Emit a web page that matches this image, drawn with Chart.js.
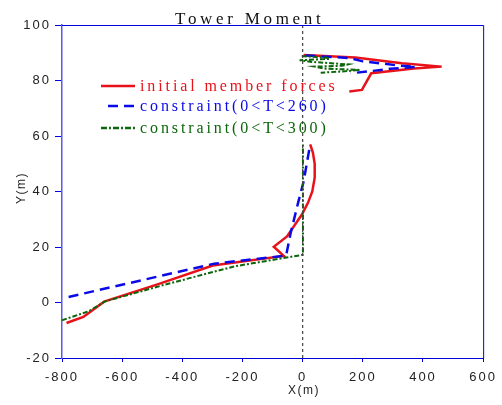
<!DOCTYPE html>
<html>
<head>
<meta charset="utf-8">
<script src="https://cdn.jsdelivr.net/npm/chart.js@4/dist/chart.umd.min.js"></script>
<style>
  body { margin: 0; background: #fff; }
  #wrap { width: 502px; height: 405px; }
</style>
</head>
<body>
<div id="wrap"><canvas id="chart" width="502" height="405"></canvas></div>
<script>
// tick labels
const xTicks = [-800, -600, -400, -200, 0, 200, 400, 600];
const yTicks = [-20, 0, 20, 40, 60, 80, 100];

// initial member forces (null = break between tower body and cross arm)
const redX = [-785, -729, -660, -480, -299, -63, -96, -52, -2, 18, 32, 40, 40, 34, 25, null,
  3, 175, 330, 462, 370, 228, 197, 155];
const redY = [-7.4, -5.2, 0.3, 6.6, 13.3, 16.8, 20.1, 23.8, 31.8, 36, 40, 45, 50, 54, 57, null,
  89.2, 88.3, 86.2, 85, 84.3, 82.6, 76.6, 76];

// constraint(0<T<260)
const blueX = [-778, -294, -55, -40, -15, 3, 25, null,
  10, 155, 200, 267, 310, 376, 290, 220, 160];
const blueY = [2, 14, 16.9, 25, 36, 43.5, 57, null,
  89, 88.1, 86.9, 86.1, 85.5, 84.9, 84.2, 83.3, 82.6];

// constraint(0<T<300)
const greenX = [-800, -712, -657, -459, -228, 1, 1, null,
  -3, 80, 90, -10, 30, 150, 130, 40, 70, 190, 140, 60];
const greenY = [-6.4, -3.2, 0.4, 6.4, 13, 17.2, 57.6, null,
  88.8, 88.2, 87.8, 87.3, 86.7, 85.8, 85.3, 85, 84.3, 83.8, 83.3, 82.8];

// reference line x = 0
const refX = [0, 0];
const refY = [-20, 100];

const labels = ['initial member forces', 'constraint(0<T<260)', 'constraint(0<T<300)'];

function pts(xs, ys) {
  return xs.map((x, i) => ({ x: x === null ? 0 : x, y: ys[i] }));
}

const RED = '#e8121a';
const BLUE = '#0a0ae8';
const GREEN = '#0c660c';

const frameAndText = {
  id: 'frameAndText',
  beforeDraw(chart) {
    chart.ctx.letterSpacing = '2px';
  },
  afterDraw(chart) {
    const { ctx, chartArea: a } = chart;
    ctx.save();
    // top and right frame lines
    ctx.strokeStyle = '#0000dd';
    ctx.lineWidth = 1;
    ctx.beginPath();
    ctx.moveTo(a.left, a.top + 0.5);
    ctx.lineTo(a.right + 0.5, a.top + 0.5);
    ctx.lineTo(a.right + 0.5, a.bottom);
    ctx.stroke();

    // title
    ctx.fillStyle = '#111';
    ctx.font = '17px "Liberation Serif"';
    ctx.letterSpacing = '3.7px';
    ctx.textBaseline = 'alphabetic';
    ctx.textAlign = 'left';
    ctx.fillText('Tower Moment', 175, 24);

    // axis titles
    ctx.font = '12px "Liberation Sans"';
    ctx.letterSpacing = '1.5px';
    ctx.fillStyle = '#222';
    ctx.textAlign = 'center';
    ctx.textBaseline = 'middle';
    ctx.fillText('X(m)', 304, 391);
    ctx.save();
    ctx.translate(22, 188);
    ctx.rotate(-Math.PI / 2);
    ctx.fillText('Y(m)', 0, 0);
    ctx.restore();

    // legend
    const rows = [
      { y: 86, color: RED, dash: [], x0: 101 },
      { y: 106, color: BLUE, dash: [10, 6], x0: 108 },
      { y: 128, color: GREEN, dash: [6, 2, 2, 2], x0: 101 }
    ];
    ctx.font = '16px "Liberation Serif"';
    ctx.letterSpacing = '2.9px';
    ctx.textAlign = 'left';
    ctx.textBaseline = 'middle';
    rows.forEach((r, i) => {
      ctx.strokeStyle = r.color;
      ctx.lineWidth = 2.5;
      ctx.setLineDash(r.dash);
      ctx.beginPath();
      ctx.moveTo(r.x0, r.y);
      ctx.lineTo(135, r.y);
      ctx.stroke();
      ctx.setLineDash([]);
      ctx.fillStyle = r.color;
      ctx.fillText(labels[i], 140, r.y + 1);
    });
    ctx.restore();
  }
};

const tickFont = { family: 'Liberation Sans', size: 13 };

new Chart(document.getElementById('chart').getContext('2d'), {
  type: 'line',
  data: {
    datasets: [
      {
        label: 'ref',
        data: pts(refX, refY),
        borderColor: '#444',
        borderWidth: 1.2,
        borderDash: [3, 3],
        pointRadius: 0,
      },
      {
        label: labels[2],
        data: pts(greenX, greenY),
        borderColor: GREEN,
        borderWidth: 2,
        borderDash: [5, 2, 2, 2],
        pointRadius: 0,
        tension: 0,
      },
      {
        label: labels[1],
        data: pts(blueX, blueY),
        borderColor: BLUE,
        borderWidth: 2.5,
        borderDash: [10, 6],
        pointRadius: 0,
        tension: 0,
      },
      {
        label: labels[0],
        data: pts(redX, redY),
        borderColor: RED,
        borderWidth: 2.5,
        pointRadius: 0,
        tension: 0,
      },
    ],
  },
  options: {
    responsive: false,
    animation: false,
    layout: { padding: { left: 0, right: 16, top: 25, bottom: 0 } },
    plugins: { legend: { display: false }, tooltip: { enabled: false } },
    scales: {
      x: {
        type: 'linear',
        min: -800,
        max: 600,
        afterBuildTicks: (s) => { s.ticks = xTicks.map((v) => ({ value: v })); },
        afterFit: (s) => { s.height = 47; },
        ticks: { font: tickFont, color: '#222', padding: 8, maxRotation: 0 },
        grid: { display: true, drawOnChartArea: false, tickLength: 4, color: '#0000dd' },
        border: { color: '#0000dd', width: 1 },
      },
      y: {
        type: 'linear',
        min: -20,
        max: 100,
        afterBuildTicks: (s) => { s.ticks = yTicks.map((v) => ({ value: v })); },
        afterFit: (s) => { s.width = 62; },
        ticks: { font: tickFont, color: '#222', padding: 4 },
        grid: { display: true, drawOnChartArea: false, tickLength: 7, color: '#0000dd' },
        border: { color: '#5a5aee', width: 1.5 },
      },
    },
  },
  plugins: [frameAndText],
});
</script>
</body>
</html>
